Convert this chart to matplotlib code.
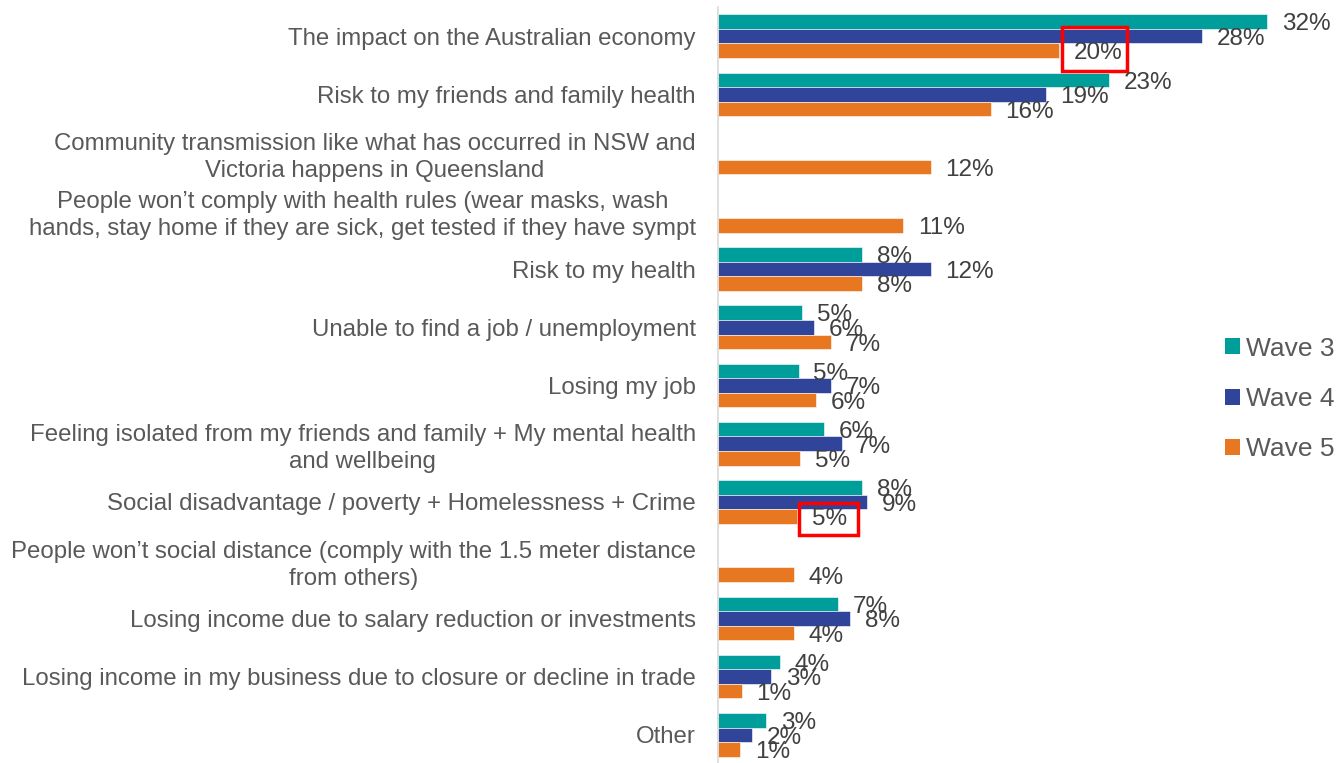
import numpy as np
import matplotlib
matplotlib.use("Agg")
import matplotlib.pyplot as plt
from matplotlib.patches import Patch, Rectangle

plt.rcParams['font.family'] = ['Liberation Sans', 'DejaVu Sans']

categories = [
    "The impact on the Australian economy",
    "Risk to my friends and family health",
    "Community transmission like what has occurred in NSW and\nVictoria happens in Queensland",
    "People won\u2019t comply with health rules (wear masks, wash\nhands, stay home if they are sick, get tested if they have sympt",
    "Risk to my health",
    "Unable to find a job / unemployment",
    "Losing my job",
    "Feeling isolated from my friends and family + My mental health\nand wellbeing",
    "Social disadvantage / poverty + Homelessness + Crime",
    "People won\u2019t social distance (comply with the 1.5 meter distance\nfrom others)",
    "Losing income due to salary reduction or investments",
    "Losing income in my business due to closure or decline in trade",
    "Other",
]
series_names = ["Wave 3", "Wave 4", "Wave 5"]
wave3 = [32.0, 22.8, np.nan, np.nan, 8.4, 4.9, 4.7, 6.2, 8.4, np.nan, 7.0, 3.6, 2.8]
wave4 = [28.2, 19.1, np.nan, np.nan, 12.4, 5.6, 6.6, 7.2, 8.7, np.nan, 7.7, 3.1, 2.0]
wave5 = [19.9, 15.9, 12.4, 10.8, 8.4, 6.6, 5.7, 4.8, 4.6, 4.4, 4.4, 1.4, 1.3]
colors = ["#009E9A", "#30459A", "#E87722"]

W, H = 1340, 763
fig = plt.figure(figsize=(W / 100, H / 100), dpi=100)
px_per_pct = 17.16
ax_left, ax_right = 718, 1300
ax = fig.add_axes([ax_left / W, -1 / H, (ax_right - ax_left) / W, 757 / H])
ax.set_xlim(0, (ax_right - ax_left) / px_per_pct)
n = len(categories)
ax.set_ylim(n - 0.5, -0.5)

bh = 0.25
y = np.arange(n)
label_color = "#404040"
for i, vals in enumerate([wave3, wave4, wave5]):
    vals = np.array(vals, dtype=float)
    pos = y + (i - 1) * bh
    mask = ~np.isnan(vals)
    ax.barh(pos[mask], vals[mask], height=bh, color=colors[i],
            edgecolor='white', linewidth=0.4, label=series_names[i])
    for p, v in zip(pos[mask], vals[mask]):
        ax.annotate(f"{v:.0f}%", xy=(v, p), xytext=(10.5, -2), textcoords='offset points',
                    ha='left', va='center', fontsize=17.5, color=label_color)

ax.set_yticks(y)
ax.set_yticklabels(categories, fontsize=17.3, color="#595959",
                   multialignment='center', linespacing=1.3)
ax.tick_params(axis='y', length=0, pad=16)
ax.set_xticks([])
for s in ['top', 'right', 'bottom']:
    ax.spines[s].set_visible(False)
ax.spines['left'].set_color('#D9D9D9')
ax.spines['left'].set_linewidth(1.2)

# highlight boxes around two labels
ax.add_patch(Rectangle((wave5[0] + 0.15, -0.155), 3.8, 0.755, fill=False,
                       edgecolor='#FF0000', linewidth=2.5, clip_on=False))
ax.add_patch(Rectangle((wave5[8] + 0.12, 8.017), 3.44, 0.55, fill=False,
                       edgecolor='#FF0000', linewidth=2.5, clip_on=False))

handles = [Patch(facecolor=c, edgecolor='none') for c in colors]
leg = fig.legend(handles, series_names, loc='center left',
                 bbox_to_anchor=(1225 / W, 1 - 399 / H), frameon=False,
                 fontsize=19, handlelength=0.57, handleheight=0.57,
                 handletextpad=0.22, labelspacing=1.0, borderpad=0, borderaxespad=0)
for t in leg.get_texts():
    t.set_color("#595959")

fig.savefig("out.png", dpi=100)
